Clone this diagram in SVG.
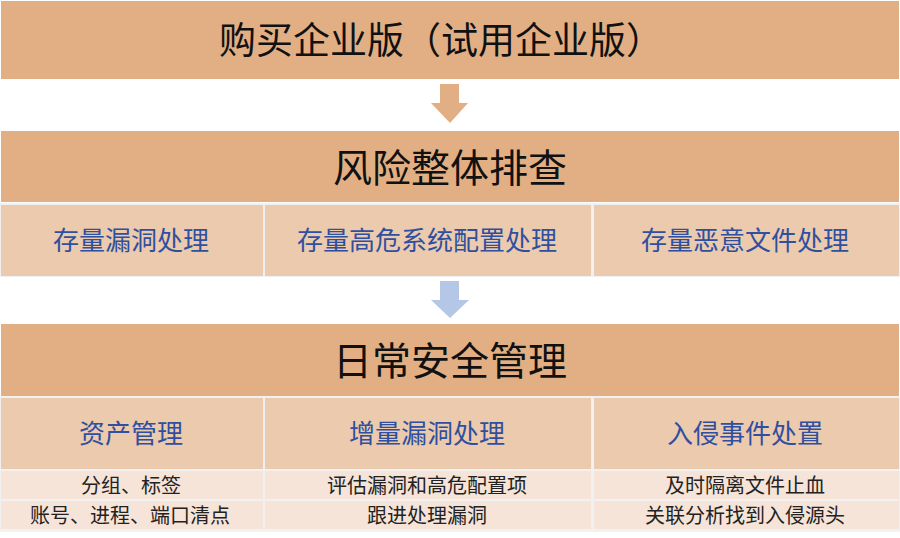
<svg xmlns="http://www.w3.org/2000/svg" width="900" height="538" viewBox="0 0 900 538">
<style>
.banner{fill:#E2AF84}
.cell{fill:#EBCAAD}
.light{fill:#F6E4D8}
.t1{font-family:"Noto Sans CJK SC","Noto Sans",sans-serif;font-size:37px;fill:#111;text-anchor:middle;dominant-baseline:central}
.t1b{font-size:39px}
.t2{font-family:"Noto Sans CJK SC","Noto Sans",sans-serif;font-size:26px;fill:#2F4F9F;text-anchor:middle;dominant-baseline:central}
.t3{font-family:"Noto Sans CJK SC","Noto Sans",sans-serif;font-size:20px;fill:#222;text-anchor:middle;dominant-baseline:central}
</style>
<rect x="0" y="0" width="900" height="538" fill="#FFFFFF"/>
<rect x="0" y="203" width="900" height="74" fill="#F1F1F1"/>
<rect x="0" y="396" width="900" height="136" fill="#F1F1F1"/>
<g id="buy">
<rect class="banner" x="1" y="1" width="898" height="78"/>
<text class="t1" x="441" y="38">购买企业版（试用企业版）</text>
</g>
<g id="risk">
<rect class="banner" x="1" y="131" width="898" height="71"/>
<text class="t1 t1b" x="450" y="165">风险整体排查</text>
</g>
<g id="risk-vuln">
<rect class="cell" x="1" y="205" width="262" height="71"/>
<text class="t2" x="131" y="238">存量漏洞处理</text>
</g>
<g id="risk-config">
<rect class="cell" x="265" y="205" width="326" height="71"/>
<text class="t2" x="427" y="238">存量高危系统配置处理</text>
</g>
<g id="risk-malware">
<rect class="cell" x="594" y="205" width="305" height="71"/>
<text class="t2" x="745" y="238">存量恶意文件处理</text>
</g>
<g id="daily">
<rect class="banner" x="1" y="324" width="898" height="72"/>
<text class="t1 t1b" x="450" y="358">日常安全管理</text>
</g>
<g id="asset">
<rect class="cell" x="1" y="398" width="262" height="71"/>
<text class="t2" x="131" y="431">资产管理</text>
<rect class="light" x="1" y="471" width="262" height="28"/>
<text class="t3" x="131" y="484">分组、标签</text>
<rect class="light" x="1" y="501" width="262" height="28"/>
<text class="t3" x="130" y="514">账号、进程、端口清点</text>
</g>
<g id="incr-vuln">
<rect class="cell" x="265" y="398" width="326" height="71"/>
<text class="t2" x="427" y="431">增量漏洞处理</text>
<rect class="light" x="265" y="471" width="326" height="28"/>
<text class="t3" x="427" y="484">评估漏洞和高危配置项</text>
<rect class="light" x="265" y="501" width="326" height="28"/>
<text class="t3" x="427" y="514">跟进处理漏洞</text>
</g>
<g id="intrusion">
<rect class="cell" x="594" y="398" width="305" height="71"/>
<text class="t2" x="745" y="431">入侵事件处置</text>
<rect class="light" x="594" y="471" width="305" height="28"/>
<text class="t3" x="745" y="484">及时隔离文件止血</text>
<rect class="light" x="594" y="501" width="305" height="28"/>
<text class="t3" x="745" y="514">关联分析找到入侵源头</text>
</g>
<g id="connectors">
<polygon fill="#E2AF84" points="440,84 459,84 459,103 468,103 450,123 431,103 440,103"/>
<polygon fill="#B4C7E7" points="440,281 459,281 459,300 469,300 450,318 431,300 440,300"/>
</g>
</svg>
